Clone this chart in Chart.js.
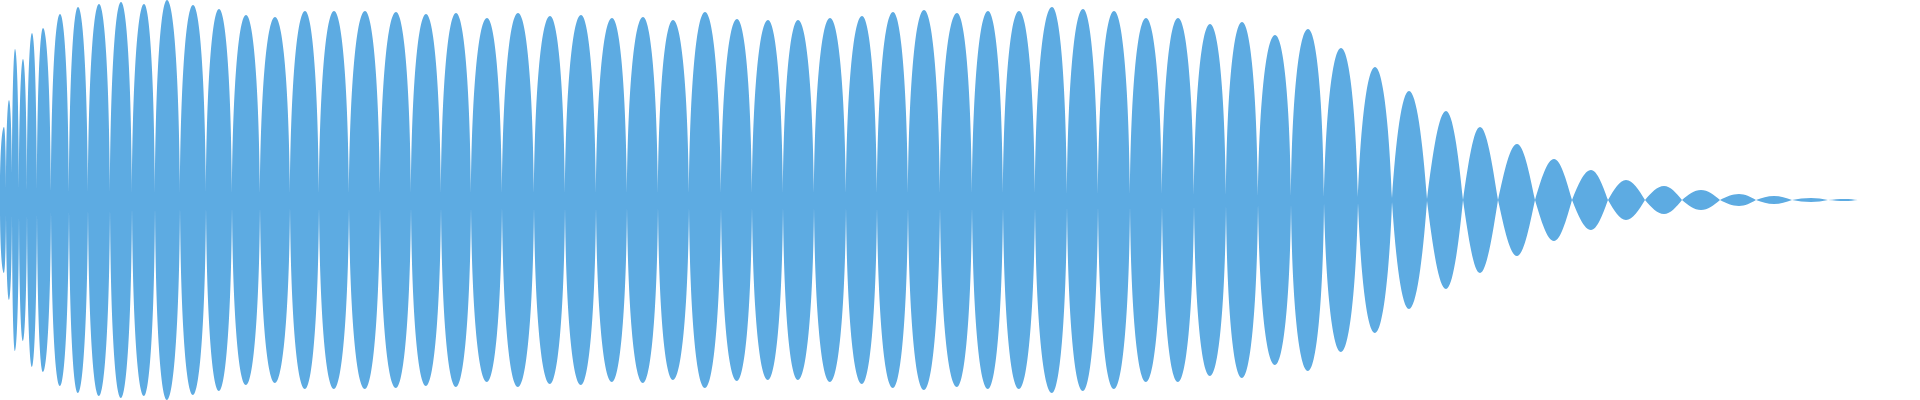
<!DOCTYPE html>
<html>
<head>
<meta charset="utf-8">
<style>
  html, body { margin: 0; padding: 0; background: #fff; }
  #wrap { width: 1920px; height: 400px; }
</style>
<script src="https://cdn.jsdelivr.net/npm/chart.js@4/dist/chart.umd.min.js"></script>
</head>
<body>
<div id="wrap"><canvas id="wave"></canvas></div>
<script>
// --- waveform data ---
// peak positions and half-heights of each lobe
const peakX = [4, 9, 15, 23, 32, 43, 60, 78, 99, 121, 144, 167, 193, 219, 246, 275, 305, 334, 365, 396,
  426, 456, 487, 518, 550, 581, 612, 643, 673, 705, 737, 768, 798,
  830, 862, 893, 924, 957, 988, 1019, 1052, 1083, 1114, 1146, 1178,
  1210, 1242, 1275, 1308, 1341, 1375, 1409, 1446, 1480, 1517, 1554, 1591, 1626, 1664, 1701, 1739, 1774, 1811, 1845];
const peakAmp = [73, 100, 151, 141, 167, 172, 186, 193, 196, 198, 196, 200, 195, 191, 185, 183, 189, 189, 189, 188,
  186, 187, 182, 187, 184, 185, 182, 183, 180, 188, 181, 180, 180,
  182, 184, 188, 190, 187, 189, 189, 193, 191, 189, 182, 182,
  176, 178, 165, 171, 152, 133, 109, 89, 73, 56, 41, 30, 20, 14, 10, 6, 4, 2, 1];

// nodes between lobes and the thickness of the band there
const nodeX = [0, 6, 12, 19, 27, 37, 51, 69, 88, 110, 132, 155, 180, 206, 232, 260, 290, 319, 349, 380, 411,
  441, 471, 502, 534, 565, 596, 627, 658, 689, 721, 752, 783, 814,
  846, 877, 908, 940, 972, 1003, 1035, 1067, 1098, 1130, 1162, 1194,
  1226, 1258, 1291, 1324, 1358, 1392, 1427, 1463, 1498, 1535, 1572, 1608, 1645, 1682, 1720, 1756, 1792, 1828, 1858];
const nodeAmp = [12, 12, 12, 11, 10, 10, 9, 8, 8, 8, 7, 7, 7, 7, 7, 7, 7, 7, 7, 7, 7,
  7, 7, 7, 7, 7, 7, 7, 7, 7, 7, 7, 7, 7,
  7, 7, 7, 7, 7, 7, 7, 6, 6, 6, 6, 5,
  5, 4, 4, 3, 3, 2, 1, 0, 0, 0, 0, 0, 0, 0, 0, 0, 0, 0, 0];

const waveColor = '#5dabe2';

// node, peak, node, peak ... node
const buildPoints = (sign) => {
  const pts = [];
  for (let i = 0; i < peakX.length; i++) {
    pts.push({ x: nodeX[i], y: sign * nodeAmp[i] });
    pts.push({ x: peakX[i], y: sign * peakAmp[i] });
  }
  const last = nodeX.length - 1;
  pts.push({ x: nodeX[last], y: sign * nodeAmp[last] });
  return pts;
};

const lerp = (a, b, k) => a + (b - a) * k;

// tall lobes are full (steep out of the node), low ones are sine-like lenses
const lobeSegment = (ctx, a, b, toPeak) => {
  const dx = b.x - a.x, dy = b.y - a.y;
  const k = Math.max(0, Math.min(1, (Math.abs(dy / dx) - 4) / 6));
  const sx = lerp(0.33, 0.06, k), sy = lerp(0.51, 0.62, k), px = lerp(0.36, 0.5, k);
  if (toPeak) {
    ctx.bezierCurveTo(a.x + sx * dx, a.y + sy * dy, b.x - px * dx, b.y, b.x, b.y);
  } else {
    ctx.bezierCurveTo(a.x + px * dx, a.y, b.x - sx * dx, b.y - sy * dy, b.x, b.y);
  }
};

const lobePlugin = {
  id: 'lobes',
  afterDatasetsDraw(chart) {
    const top = chart.getDatasetMeta(0).data;
    const bottom = chart.getDatasetMeta(1).data;
    const ctx = chart.ctx;
    ctx.save();
    ctx.beginPath();
    ctx.moveTo(top[0].x, top[0].y);
    for (let i = 1; i < top.length; i++) {
      lobeSegment(ctx, top[i - 1], top[i], i % 2 === 1);
    }
    for (let i = bottom.length - 1; i >= 0; i--) {
      if (i === bottom.length - 1) {
        ctx.lineTo(bottom[i].x, bottom[i].y);
      } else {
        // walking backwards: peak points have odd index
        lobeSegment(ctx, bottom[i + 1], bottom[i], i % 2 === 1);
      }
    }
    ctx.closePath();
    ctx.fillStyle = waveColor;
    ctx.fill();
    ctx.restore();
  }
};

new Chart(document.getElementById('wave'), {
  type: 'line',
  data: {
    datasets: [
      { data: buildPoints(1), showLine: false, pointRadius: 0 },
      { data: buildPoints(-1), showLine: false, pointRadius: 0 }
    ]
  },
  options: {
    responsive: true,
    maintainAspectRatio: false,
    animation: false,
    layout: { padding: 0 },
    plugins: { legend: { display: false }, tooltip: { enabled: false } },
    scales: {
      x: { type: 'linear', min: 0, max: 1920, display: false },
      y: { min: -200, max: 200, display: false }
    }
  },
  plugins: [lobePlugin]
});
</script>
</body>
</html>
